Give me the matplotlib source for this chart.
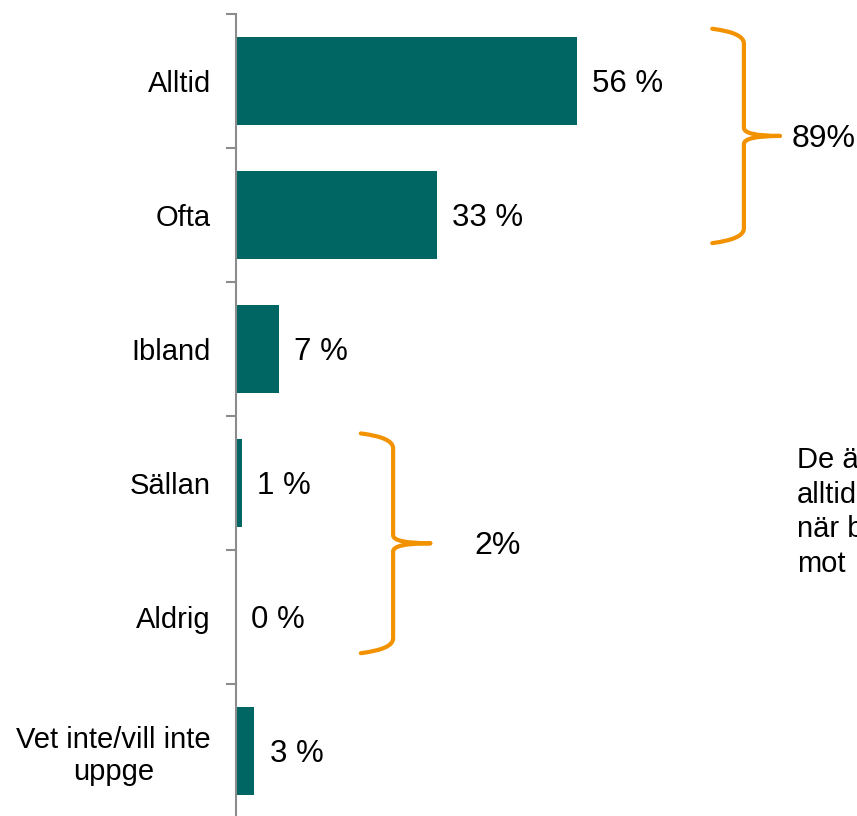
import matplotlib
matplotlib.use("Agg")
import matplotlib.pyplot as plt
from matplotlib.path import Path
from matplotlib.patches import PathPatch

plt.rcParams['font.family'] = ['Liberation Sans', 'DejaVu Sans']

# Data
categories = ["Alltid", "Ofta", "Ibland", "Sällan", "Aldrig", "Vet inte/vill inte\nuppge"]
values = [56, 33, 7, 1, 0, 3]
value_labels = ["56 %", "33 %", "7 %", "1 %", "0 %", "3 %"]
group_labels = ["89%", "2%"]
group_ranges = [(0, 1), (3, 4)]
side_text = "De äldre\nalltid\nnär barnen\nmot"

bar_color = "#006663"
brace_color = "#F39200"

fig = plt.figure(figsize=(8.57, 8.16), dpi=100)
ax = fig.add_axes([236 / 857, -2 / 816, 621 / 857, 804 / 816])

pos = list(range(len(categories)))
ax.barh(pos, values, height=0.66, color=bar_color)
ax.set_xlim(0, 621 / 6.09)
ax.set_ylim(len(categories) - 0.5, -0.5)

for p, v, lab in zip(pos, values, value_labels):
    ax.annotate(lab, (v, p), xytext=(11, -2.5), textcoords="offset points",
                va="center", ha="left", fontsize=22.5, color="black")

# axis styling
for s in ["top", "right", "bottom"]:
    ax.spines[s].set_visible(False)
ax.spines["left"].set_color("#8c8c8c")
ax.spines["left"].set_linewidth(1.5)
ax.set_xticks([])
ax.set_yticks([p - 0.5 for p in pos] + [len(pos) - 0.5])
ax.set_yticklabels([])
ax.tick_params(axis="y", which="major", length=7, width=1.5, color="#8c8c8c")
ax.set_yticks(pos, minor=True)
ax.set_yticklabels(categories, minor=True, fontsize=21)
ax.tick_params(axis="y", which="minor", length=0, pad=18)
for t in ax.get_yticklabels(minor=True):
    t.set_multialignment("center")


def brace(ax, x0, xv, xt, ytop, ybot, r=0.08, r2=0.06):
    ymid = (ytop + ybot) / 2
    verts = [
        (x0, ytop - 0.03), (xv, ytop), (xv, ytop + r),
        (xv, ymid - r2), (xv, ymid), (xt, ymid),
        (xt, ymid), (xv, ymid), (xv, ymid + r2),
        (xv, ybot - r), (xv, ybot), (x0, ybot + 0.03),
    ]
    codes = [
        Path.MOVETO, Path.CURVE3, Path.CURVE3,
        Path.LINETO, Path.CURVE3, Path.CURVE3,
        Path.MOVETO, Path.CURVE3, Path.CURVE3,
        Path.LINETO, Path.CURVE3, Path.CURVE3,
    ]
    ax.add_patch(PathPatch(Path(verts, codes), fill=False, edgecolor=brace_color,
                           linewidth=3, capstyle="round", joinstyle="round",
                           clip_on=False))
    return ymid


brace_x = [(78.2, 83.4, 89.3), (20.5, 25.8, 31.9)]
brace_y = [(-0.36, 1.18), (2.66, 4.24)]
text_x = [(91.3, "left"), (43.0, "center")]
for (x0, xv, xt), (yt, yb), (tx, ha), lab in zip(brace_x, brace_y, text_x, group_labels):
    ym = brace(ax, x0, xv, xt, yt, yb)
    ax.annotate(lab, (tx, ym), xytext=(0, -2), textcoords="offset points",
                ha=ha, va="center", fontsize=23, annotation_clip=False)

fig.text(797 / 857, 1 - 512 / 816, side_text, ha="left", va="center",
         fontsize=21, linespacing=1.3)

fig.savefig("out.png", dpi=100)
